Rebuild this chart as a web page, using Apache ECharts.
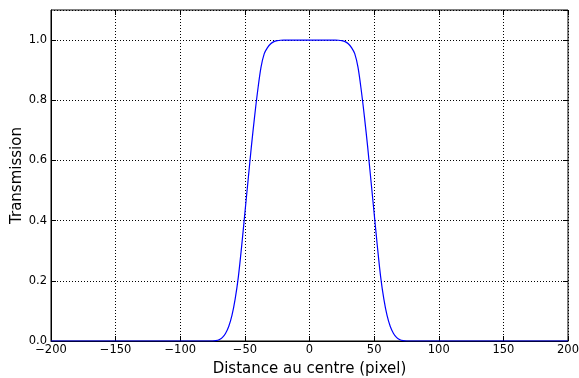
<!DOCTYPE html>
<html>
<head>
<meta charset="utf-8">
<script src="https://cdn.jsdelivr.net/npm/echarts@6/dist/echarts.min.js"></script>
<style>
  html, body { margin: 0; padding: 0; background: #fff; }
  #chart { width: 579px; height: 378px; }
</style>
</head>
<body>
<div id="chart"></div>
<script>
// distance from centre (pixel) and transmission
const distances = [-200, -75, -72.5, -70, -67.5, -65, -62.5, -60, -57.5, -55, -52.5, -50, -47.5, -45, -42.5, -40,
  -37.5, -35, -32.5, -30, -27.5, -25, -22.5, -20, 0, 20, 22.5, 25, 27.5, 30, 32.5, 35, 37.5, 40, 42.5, 45,
  47.5, 50, 52.5, 55, 57.5, 60, 62.5, 65, 67.5, 70, 72.5, 75, 200];
const transmission = [0, 0, 0.001, 0.004, 0.011, 0.025, 0.048, 0.085, 0.14, 0.215, 0.315, 0.425, 0.535, 0.645, 0.745, 0.835,
  0.91, 0.955, 0.975, 0.988, 0.995, 0.998, 0.9995, 1, 1, 1, 0.9995, 0.998, 0.995, 0.988, 0.975, 0.955, 0.91, 0.835, 0.745, 0.645,
  0.535, 0.425, 0.315, 0.215, 0.14, 0.085, 0.048, 0.025, 0.011, 0.004, 0.001, 0, 0];
const xTicks = [-200, -150, -100, -50, 0, 50, 100, 150, 200];
const yTicks = [0, 0.2, 0.4, 0.6, 0.8, 1.0];

const chart = echarts.init(document.getElementById('chart'));
const font = 'DejaVu Sans';
const gridDots = { show: true, lineStyle: { color: '#000', width: 1, type: [1, 2] } };

const option = {
  animation: false,
  backgroundColor: '#fff',
  grid: { left: 51, right: 11, top: 10, bottom: 37, show: true, borderColor: '#000', borderWidth: 1,
    outerBoundsMode: 'none', containLabel: false },
  xAxis: [
    {
      type: 'value', min: -200, max: 200, interval: 50,
      name: 'Distance au centre (pixel)', nameLocation: 'middle', nameGap: 21, nameMoveOverlap: false,
      nameTextStyle: { fontFamily: font, fontSize: 15, color: '#000' },
      axisLine: { onZero: false, lineStyle: { color: '#000' } },
      axisTick: { inside: true, length: 5, lineStyle: { color: '#000' } },
      axisLabel: { fontFamily: font, fontSize: 11.5, color: '#000', margin: 3,
        formatter: v => xTicks.includes(v) ? String(v).replace('-', '\u2212') : '' },
      splitLine: gridDots
    },
    {
      type: 'value', min: -200, max: 200, interval: 50, position: 'top',
      axisLine: { show: false, onZero: false },
      axisTick: { inside: true, length: 5, lineStyle: { color: '#000' } },
      axisLabel: { show: false }, splitLine: { show: false }
    }
  ],
  yAxis: [
    {
      type: 'value', min: 0, max: 1.1, interval: 0.2,
      name: 'Transmission', nameLocation: 'middle', nameGap: 26, nameMoveOverlap: false,
      nameTextStyle: { fontFamily: font, fontSize: 15, color: '#000' },
      axisLine: { show: true, onZero: false, lineStyle: { color: '#000' } },
      axisTick: { inside: true, length: 5, lineStyle: { color: '#000' } },
      axisLabel: { fontFamily: font, fontSize: 11.5, color: '#000', margin: 4, showMaxLabel: false,
        formatter: v => yTicks.some(t => Math.abs(t - v) < 1e-6) ? v.toFixed(1) : '' },
      splitLine: gridDots
    },
    {
      type: 'value', min: 0, max: 1.1, interval: 0.2, position: 'right',
      axisLine: { show: false, onZero: false },
      axisTick: { inside: true, length: 5, lineStyle: { color: '#000' } },
      axisLabel: { show: false }, splitLine: { show: false }
    }
  ],
  series: [{
    type: 'line',
    data: distances.map((d, i) => [d, transmission[i]]),
    smooth: 0.3,
    symbol: 'none',
    lineStyle: { color: '#0000ff', width: 1.2 }
  }]
};
chart.setOption(option);
</script>
</body>
</html>
